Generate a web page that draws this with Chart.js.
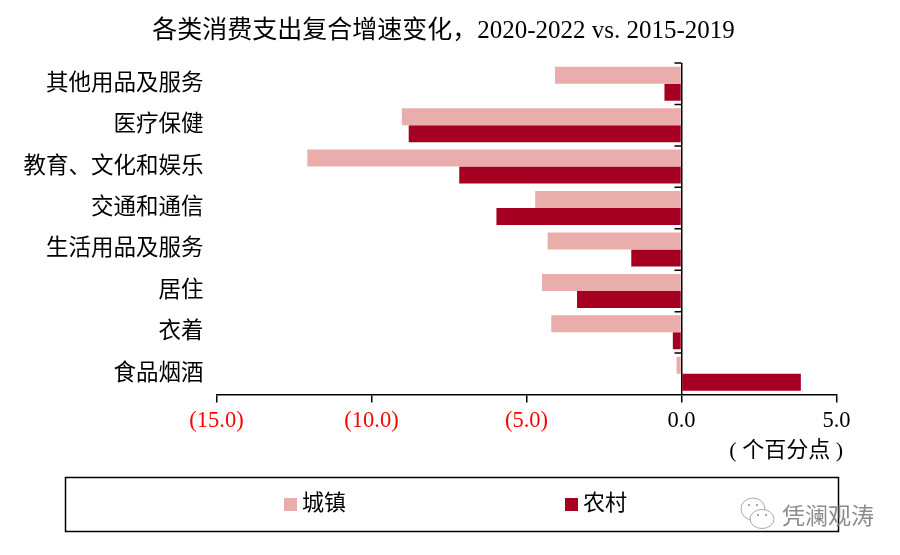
<!DOCTYPE html>
<html>
<head>
<meta charset="utf-8">
<style>
  html, body { margin: 0; padding: 0; background: #fff; }
  canvas { display: block; }
</style>
<script src="https://cdn.jsdelivr.net/npm/chart.js@4/dist/chart.umd.min.js"></script>
</head>
<body>
<canvas id="myChart" width="900" height="555"></canvas>
<script>
const FONT_FAMILY = '"Liberation Serif", "Noto Sans CJK SC", serif';
const TITLE = '各类消费支出复合增速变化，2020-2022 vs. 2015-2019';
const UNIT_LABEL = '( 个百分点 )';
const WATERMARK = '凭澜观涛';
const categories = ['其他用品及服务', '医疗保健', '教育、文化和娱乐', '交通和通信', '生活用品及服务', '居住', '衣着', '食品烟酒'];
const urbanValues = [-4.08, -9.02, -12.07, -4.72, -4.32, -4.5, -4.2, -0.16];
const ruralValues = [-0.55, -8.8, -7.17, -5.97, -1.62, -3.37, -0.28, 3.85];
const URBAN_COLOR = '#E9ADAC';
const RURAL_COLOR = '#A50021';

// scale edges are set by hand so the plot lands where the reference has it
function fixYWidth(scale) { scale.width = 216.5; }
function fixXHeight(scale) { scale.height = 160.5; }

function formatTick(value) {
    const text = Math.abs(value).toFixed(1);
    return value < 0 ? '(' + text + ')' : text;
}

function drawDot(ctx, x, y) {
    ctx.beginPath();
    ctx.arc(x, y, 1.2, 0, Math.PI * 2);
    ctx.fill();
}

const decorations = {
    id: 'decorations',
    afterLayout(chart) {
        // title is centred on the page's plot box, push it to the reference's centre
        chart.titleBlock.left = 50.5;
    },
    afterDraw(chart) {
        const ctx = chart.ctx;
        const x = chart.scales.x;
        const y = chart.scales.y;
        const zero = x.getPixelForValue(0);
        ctx.save();
        // small ticks on the zero line, between the categories
        ctx.strokeStyle = '#000';
        ctx.lineWidth = 1.5;
        ctx.beginPath();
        for (let i = 0; i < categories.length; i++) {
            const tickY = y.getPixelForValue(i) - (y.getPixelForValue(1) - y.getPixelForValue(0)) / 2;
            ctx.moveTo(zero - 7, tickY);
            ctx.lineTo(zero, tickY);
        }
        ctx.stroke();

        // unit label
        ctx.fillStyle = '#000';
        ctx.font = '22px ' + FONT_FAMILY;
        ctx.textAlign = 'right';
        ctx.textBaseline = 'middle';
        ctx.fillText(UNIT_LABEL, 843, 451);

        // legend box
        ctx.strokeRect(65.5, 477.5, 773, 54);
        ctx.textAlign = 'left';
        const legendX = [284, 565];
        chart.data.datasets.forEach((ds, i) => {
            ctx.fillStyle = ds.backgroundColor;
            ctx.fillRect(legendX[i], 498, 13, 13);
            ctx.fillStyle = '#000';
            ctx.fillText(ds.label, legendX[i] + 18, 504);
        });

        // watermark
        ctx.fillStyle = '#8c8c8c';
        ctx.font = '23px "Noto Sans CJK SC"';
        ctx.fillText(WATERMARK, 782, 515);
        ctx.strokeStyle = '#a8a8a8';
        ctx.lineWidth = 1;
        ctx.beginPath();
        ctx.ellipse(753, 509, 12, 11, 0, 0, Math.PI * 2);
        ctx.stroke();
        ctx.fillStyle = '#fff';
        ctx.beginPath();
        ctx.ellipse(762, 519, 12, 9.5, 0, 0, Math.PI * 2);
        ctx.fill();
        ctx.stroke();
        ctx.fillStyle = '#a8a8a8';
        drawDot(ctx, 749, 505);
        drawDot(ctx, 757, 505);
        drawDot(ctx, 758, 515);
        drawDot(ctx, 766, 515);
        ctx.restore();
    }
};

new Chart(document.getElementById('myChart'), {
    type: 'bar',
    data: {
        labels: categories,
        datasets: [
            { label: '城镇', data: urbanValues, backgroundColor: URBAN_COLOR },
            { label: '农村', data: ruralValues, backgroundColor: RURAL_COLOR }
        ]
    },
    options: {
        indexAxis: 'y',
        responsive: false,
        animation: false,
        devicePixelRatio: 1,
        layout: { padding: { left: 0, right: 63.5, top: 0, bottom: 0 } },
        plugins: {
            legend: { display: false },
            tooltip: { enabled: false },
            title: {
                display: true,
                text: TITLE,
                color: '#000',
                font: { family: FONT_FAMILY, size: 25, weight: 'normal' },
                padding: { top: 16, bottom: 17 }
            }
        },
        datasets: { bar: { categoryPercentage: 0.82, barPercentage: 1 } },
        scales: {
            x: {
                min: -15,
                max: 5,
                afterFit: fixXHeight,
                border: { color: '#000', width: 1.5 },
                grid: {
                    color: (c) => c.tick.value === 0 ? '#000' : 'transparent',
                    tickColor: '#000',
                    tickLength: 8,
                    lineWidth: 1.5
                },
                ticks: {
                    stepSize: 5,
                    maxRotation: 0,
                    padding: 5,
                    color: (c) => c.tick.value < 0 ? '#FF0000' : '#000',
                    font: { family: FONT_FAMILY, size: 22.5 },
                    callback: formatTick
                }
            },
            y: {
                afterFit: fixYWidth,
                border: { display: false },
                grid: { display: false },
                ticks: {
                    padding: 5,
                    color: '#000',
                    font: { family: FONT_FAMILY, size: 22.5 },
                    autoSkip: false
                }
            }
        }
    },
    plugins: [decorations]
});
</script>
</body>
</html>
